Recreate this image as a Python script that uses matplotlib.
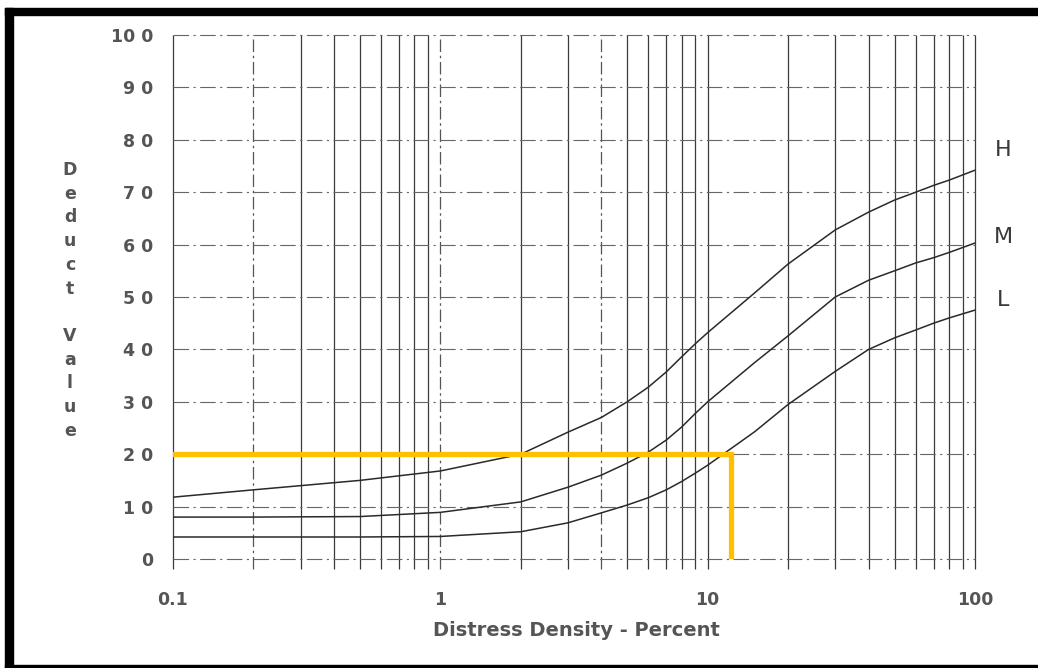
import matplotlib
matplotlib.use("Agg")
import matplotlib.pyplot as plt
from matplotlib.patches import Rectangle
from matplotlib.transforms import blended_transform_factory

# Deduct value curves vs. distress density (percent), one per severity level
density = [0.1, 0.2, 0.5, 1, 2, 3, 4, 5, 6, 7, 8, 9, 10, 15, 20, 30, 40, 50, 60, 70, 80, 100]
high = [11.8, 13.2, 15.0, 16.8, 20.0, 24.2, 27.0, 30.0, 32.8, 35.7, 38.6, 41.1, 43.2,
        50.8, 56.3, 62.8, 66.2, 68.5, 70.0, 71.3, 72.3, 74.2]
medium = [8.0, 8.0, 8.1, 8.9, 10.9, 13.7, 16.0, 18.3, 20.4, 22.7, 25.2, 27.8, 30.0,
          37.5, 42.6, 50.0, 53.2, 55.0, 56.5, 57.5, 58.5, 60.3]
low = [4.2, 4.2, 4.2, 4.3, 5.2, 6.9, 8.8, 10.3, 11.7, 13.2, 14.8, 16.4, 17.9,
       24.3, 29.5, 35.8, 40.0, 42.2, 43.7, 45.0, 46.0, 47.5]
curve_labels = ["H", "M", "L"]
label_values = [78, 61.5, 49.5]

# Worked example: a deduct value of 20 read at a density of about 12.2 %
example_density = 12.2
example_deduct = 20

x_ticks = [0.1, 1, 10, 100]
x_tick_labels = ["0.1", "1", "10", "100"]
y_ticks = list(range(0, 101, 10))
y_tick_labels = ["0", "1 0", "2 0", "3 0", "4 0", "5 0", "6 0", "7 0", "8 0", "9 0", "10 0"]

solid_verticals = [0.1, 0.3, 0.4, 0.5, 0.6, 0.7, 0.8, 0.9, 2, 3, 5, 6, 7, 8, 9, 10,
                   20, 30, 40, 50, 60, 70, 80, 90, 100]
dashed_verticals = [0.2, 1, 4]

W, H = 1038, 668
fig = plt.figure(figsize=(W / 100, H / 100), dpi=100)
fig.patch.set_facecolor("white")

ax = fig.add_axes([173 / W, 1 - 559 / H, (975 - 173) / W, (559 - 35) / H])
ax.set_xscale("log")
ax.set_xlim(0.1, 100)
ax.set_ylim(0, 100)
for s in ax.spines.values():
    s.set_visible(False)

grid_col = "#3a3a3a"
ax.vlines(solid_verticals, -2, 100, colors=grid_col, linewidth=0.9, clip_on=False, zorder=1)
ax.vlines(dashed_verticals, -2, 100, colors="#555555", linewidth=0.9,
          linestyles=(0, (10, 3, 2, 3)), clip_on=False, zorder=1)
ax.hlines(y_ticks, 0.1, 100, colors="#666666", linewidth=0.8,
          linestyles=(0, (14, 4, 2, 4)), clip_on=False, zorder=1)

for series in (high, medium, low):
    ax.plot(density, series, color="#2a2a2a", linewidth=1.1, zorder=3)

ax.plot([0.1, example_density, example_density], [example_deduct, example_deduct, 0],
        color="#FFC000", linewidth=3.8, solid_joinstyle="miter", zorder=4)

tick_font = dict(family="DejaVu Sans", fontsize=12.5, fontweight="bold", color="#555555")
ax.set_xticks(x_ticks)
ax.set_xticklabels(x_tick_labels, **tick_font)
ax.set_xticks([], minor=True)
ax.set_yticks(y_ticks)
ax.set_yticklabels(y_tick_labels, **tick_font)
ax.tick_params(axis="both", length=0)
ax.tick_params(axis="x", pad=23)
ax.tick_params(axis="y", pad=14)

label_tf = blended_transform_factory(fig.transFigure, ax.transData)
for lab, val in zip(curve_labels, label_values):
    ax.text(1003 / W, val, lab, transform=label_tf, ha="center", va="center",
            fontsize=16, color="#3a3a3a", family="DejaVu Sans")

fig.text(576 / W, 1 - 630 / H, "Distress Density - Percent", ha="center", va="center",
         fontsize=14, fontweight="bold", color="#555555", family="DejaVu Sans")

ylabel = "Deduct Value"
for i, ch in enumerate(ylabel):
    if ch == " ":
        continue
    fig.text(70 / W, 1 - (170 + 23.7 * i) / H, ch, ha="center", va="center",
             fontsize=12.5, fontweight="bold", color="#555555", family="DejaVu Sans")

# Black frame on the left, top and bottom edges
for x0, y0, w, h in [(5, 8, 8, 660), (5, 8, W - 5, 7), (5, 665, W - 5, 3)]:
    fig.patches.append(Rectangle((x0 / W, 1 - (y0 + h) / H), w / W, h / H,
                                 transform=fig.transFigure, color="black", zorder=10))

fig.savefig("out.png", dpi=100, facecolor="white")
